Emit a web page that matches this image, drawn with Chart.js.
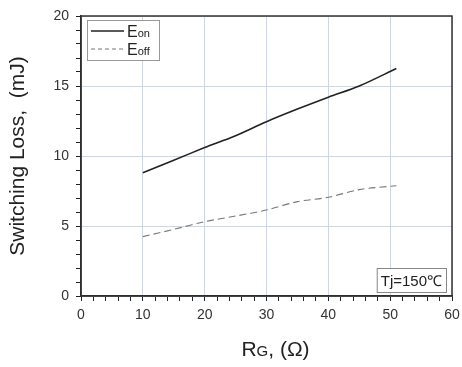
<!DOCTYPE html>
<html><head><meta charset="utf-8">
<script src="https://cdn.jsdelivr.net/npm/chart.js@4/dist/chart.umd.min.js"></script>
<style>html,body{margin:0;padding:0;background:#fff}#wrap{width:462px;height:367px}</style>
</head><body><div id="wrap"><canvas id="c" width="462" height="367"></canvas></div>
<script>
const rg = [10, 15, 20, 25, 30, 35, 40, 45, 51];
const eon = [8.8, 9.7, 10.6, 11.45, 12.45, 13.35, 14.2, 15.0, 16.25];
const eoff = [4.24, 4.76, 5.31, 5.71, 6.14, 6.74, 7.05, 7.6, 7.88];
const xTicks = [0, 10, 20, 30, 40, 50, 60];
const yTicks = [0, 5, 10, 15, 20];
const seriesNames = ['E', 'E'];
const seriesSubs = ['on', 'off'];
const note = 'Tj=150℃';
const xTitleParts = [['R', 21], ['G', 15], [', (Ω)', 21]];
const yTitle = 'Switching Loss,  (mJ)';

const FONT = '"Liberation Sans", Arial, sans-serif';

const decor = {
  id: 'decor',
  afterDraw(chart) {
    const {ctx, chartArea: a} = chart;
    ctx.save();
    ctx.strokeStyle = '#333';
    ctx.lineWidth = 1.5;
    ctx.strokeRect(a.left, a.top, a.right - a.left, a.bottom - a.top);
    const lx = a.left + 6, ly = a.top + 4, lw = 72, lh = 40;
    ctx.fillStyle = '#fff';
    ctx.fillRect(lx, ly, lw, lh);
    ctx.strokeStyle = '#999';
    ctx.lineWidth = 1;
    ctx.strokeRect(lx + 0.5, ly + 0.5, lw, lh);
    const rows = [ly + 11, ly + 29];
    const styles = [{c: '#222', d: [], w: 1.5}, {c: '#777', d: [4, 3], w: 1}];
    rows.forEach((yy, i) => {
      ctx.beginPath();
      ctx.setLineDash(styles[i].d);
      ctx.strokeStyle = styles[i].c;
      ctx.lineWidth = styles[i].w;
      ctx.moveTo(lx + 4, yy); ctx.lineTo(lx + 37, yy);
      ctx.stroke();
      ctx.setLineDash([]);
      ctx.fillStyle = '#222';
      ctx.textBaseline = 'alphabetic';
      ctx.textAlign = 'left';
      ctx.font = '16px ' + FONT;
      ctx.fillText(seriesNames[i], lx + 40, yy + 6);
      const w = ctx.measureText(seriesNames[i]).width;
      ctx.font = '11px ' + FONT;
      ctx.fillText(seriesSubs[i], lx + 40 + w, yy + 6);
    });
    ctx.font = '15px ' + FONT;
    const tw = ctx.measureText(note).width;
    const bx = a.right - tw - 14, by = a.bottom - 28;
    ctx.fillStyle = '#fff';
    ctx.fillRect(bx, by, tw + 8, 24);
    ctx.strokeStyle = '#888';
    ctx.lineWidth = 1;
    ctx.strokeRect(bx + 0.5, by + 0.5, tw + 8, 24);
    ctx.fillStyle = '#222';
    ctx.fillText(note, bx + 4, by + 18);
    // x title with small-caps G
    let total = 0;
    xTitleParts.forEach(([t, s]) => { ctx.font = s + 'px ' + FONT; total += ctx.measureText(t).width; });
    let x = (a.left + a.right) / 2 + 9 - total / 2;
    const base = a.bottom + 60;
    xTitleParts.forEach(([t, s]) => {
      ctx.font = s + 'px ' + FONT;
      ctx.fillText(t, x, base);
      x += ctx.measureText(t).width;
    });
    ctx.restore();
  }
};

new Chart(document.getElementById('c'), {
  type: 'line',
  data: {
    datasets: [
      {label: 'Eon', data: rg.map((x, i) => ({x, y: eon[i]})), borderColor: '#222', borderWidth: 1.6, pointRadius: 0, tension: 0.3, fill: false},
      {label: 'Eoff', data: rg.map((x, i) => ({x, y: eoff[i]})), borderColor: '#777', borderWidth: 1.1, borderDash: [7, 4], pointRadius: 0, tension: 0.3, fill: false}
    ]
  },
  options: {
    responsive: false,
    animation: false,
    layout: {padding: {top: 16, right: 10, left: 6, bottom: 0}},
    plugins: {legend: {display: false}, tooltip: {enabled: false}},
    scales: {
      x: {
        type: 'linear', min: 0, max: 60,
        afterFit(s) { s.height = 71; s.paddingRight = 0; s.paddingLeft = 0; },
        ticks: {stepSize: 2, autoSkip: false, maxRotation: 0, padding: 6, color: '#333', font: {size: 14, family: FONT},
          callback: v => xTicks.includes(v) ? String(v) : ''},
        grid: {color: c => (c.tick && xTicks.includes(c.tick.value)) ? '#cfd6e2' : 'rgba(0,0,0,0)', tickColor: '#222', tickLength: 5, lineWidth: 1},
        border: {color: '#222', width: 1.5}
      },
      y: {
        type: 'linear', min: 0, max: 20,
        afterFit(s) { s.width = 75; s.paddingTop = 0; s.paddingBottom = 0; },
        ticks: {stepSize: 1, autoSkip: false, padding: 7, color: '#333', font: {size: 14, family: FONT},
          callback: v => yTicks.includes(v) ? String(v) : ''},
        grid: {color: c => (c.tick && yTicks.includes(c.tick.value)) ? '#cfd6e2' : 'rgba(0,0,0,0)', tickColor: '#222', tickLength: 5, lineWidth: 1},
        border: {color: '#222', width: 1.5},
        title: {display: true, text: yTitle, color: '#222', font: {size: 21, family: FONT}, padding: {top: 0, bottom: 4}}
      }
    }
  },
  plugins: [decor]
});
</script></body></html>
